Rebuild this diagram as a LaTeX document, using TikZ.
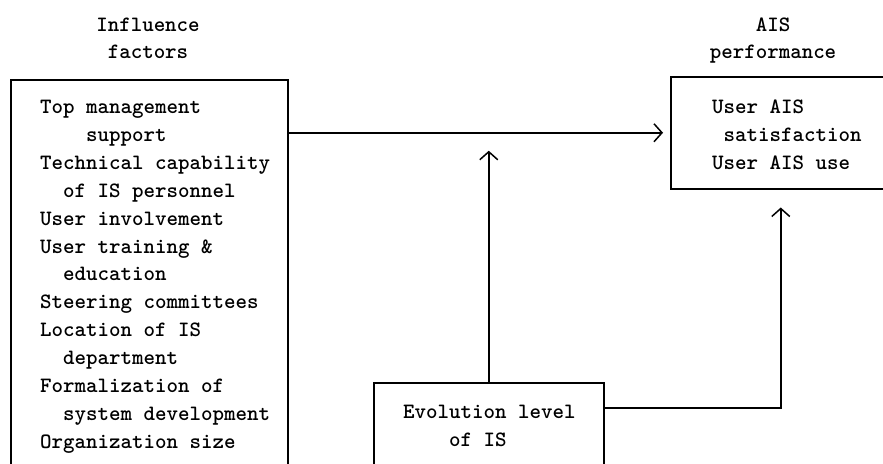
\documentclass[tikz,border=0pt]{standalone}
\usetikzlibrary{arrows.meta}

\tikzset{
	box/.style={draw,line width=1.5pt,inner sep=0pt,anchor=north west},
	txt/.style={font=\fontsize{21.9}{27.9}\selectfont\ttfamily\bfseries,align=left,
		inner sep=0pt,anchor=north west},
	head/.style={font=\fontsize{21.9}{27}\selectfont\ttfamily\bfseries,align=center,
		inner sep=0pt,anchor=north},
	link/.style={line width=1.5pt,-{Straight Barb[length=8pt,width=18pt,line width=1.5pt]}}
}

\begin{document}
\begin{tikzpicture}[x=1pt,y=-1pt]
	\useasboundingbox (0,0) rectangle (883,463);

	% headings
	\node[head] (hinfl) at (148,18) {Influence\\factors};
	\node[head] (hais) at (773,18) {AIS\\performance};

	% boxes (cut off at the page edge)
	\node[box,minimum width=277,minimum height=420] (infl) at (10,79) {};
	\node[box,minimum width=220,minimum height=112] (ais) at (670,76) {};
	\node[box,minimum width=230,minimum height=120] (evo) at (373,382) {};

	\node[txt] (infltxt) at (40,100) {Top management\\
		\hspace*{2.1em}support\\
		Technical capability\\
		\hspace*{1.05em}of IS personnel\\
		User involvement\\
		User training \&\\
		\hspace*{1.05em}education\\
		Steering committees\\
		Location of IS\\
		\hspace*{1.05em}department\\
		Formalization of\\
		\hspace*{1.05em}system development\\
		Organization size};
	\node[txt] (aistxt) at (712,100) {User AIS\\
		\hspace*{0.525em}satisfaction\\
		User AIS use};
	\node[txt] (evotxt) at (403,405) {Evolution level\\
		\hspace*{2.1em}of IS};

	% connectors
	\draw[link,shorten >=7pt] (ais.west -| infl.east) -- (ais.west);
	\draw[link,shorten >=18pt] (evo.north) -- (evo.north |- ais.west);
	\draw[link,shorten >=18pt] ([yshift=-26pt]evo.north east) -| (ais.south);
\end{tikzpicture}
\end{document}
